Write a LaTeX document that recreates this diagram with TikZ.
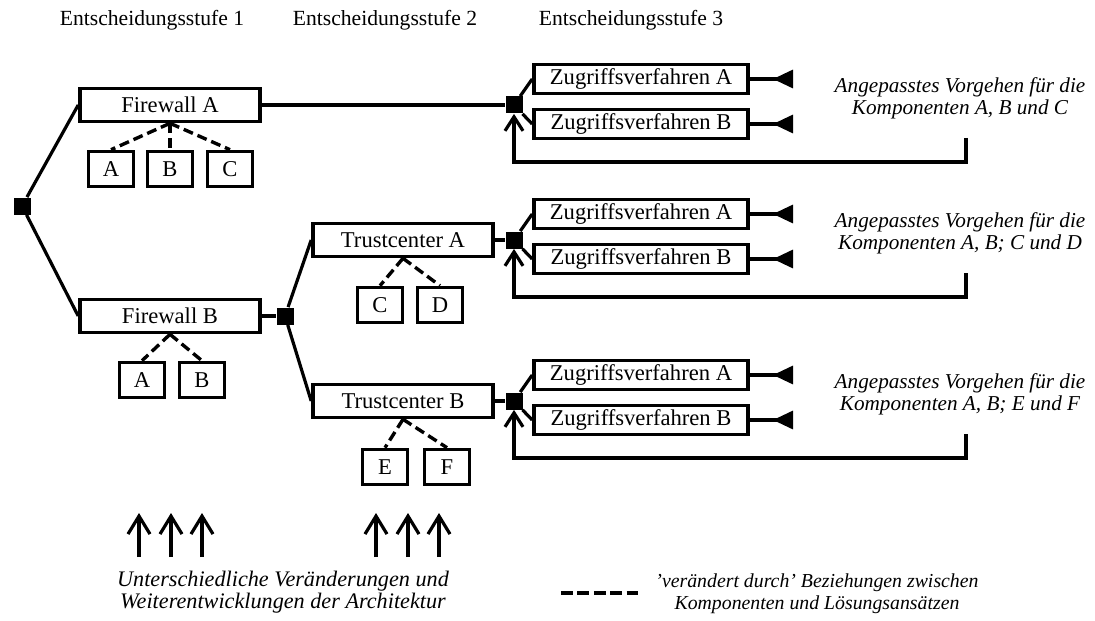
\documentclass[tikz,border=0pt]{standalone}
\usepackage{fontspec}
\setmainfont{Liberation Serif}
\usetikzlibrary{arrows.meta}
\begin{document}
\begin{tikzpicture}[x=0.5pt,y=-0.5pt,
  txt/.style={font=\fontsize{11.3}{12.2}\selectfont},
  box/.style={draw, line width=1.8pt, minimum width=90pt, minimum height=16.5pt, inner sep=0pt, txt},
  zbox/.style={draw, line width=1.8pt, minimum width=107pt, minimum height=14.5pt, inner sep=0pt, txt},
  sbox/.style={draw, line width=1.8pt, minimum width=22.5pt, minimum height=17.5pt, inner sep=0pt, txt},
  jn/.style={fill, minimum size=8.5pt, inner sep=0pt},
  conn/.style={line width=1.6pt},
  rel/.style={line width=1.7pt, dash pattern=on 5pt off 2.5pt},
  term/.style={line width=1.6pt, -{Triangle[reversed,length=10pt,width=9pt]}},
  fbk/.style={line width=1.6pt, -{Straight Barb[length=7pt,width=9pt]}},
  uparr/.style={line width=1.6pt, -{Straight Barb[length=9pt,width=11pt]}},
  note/.style={font=\fontsize{10.6}{11}\selectfont\itshape, align=center},
]
\useasboundingbox (0,0) rectangle (1095,620);

% headers
\node[font=\fontsize{10.8}{12}\selectfont] (h1) at (152,20) {Entscheidungsstufe 1};
\node[font=\fontsize{10.8}{12}\selectfont] (h2) at (385,20) {Entscheidungsstufe 2};
\node[font=\fontsize{10.8}{12}\selectfont] (h3) at (631,20) {Entscheidungsstufe 3};

% level 1
\node[jn] (r) at (22,206) {};
\node[box] (fa) at (170,105) {Firewall A};
\node[sbox] (fa1) at (111,169) {A};
\node[sbox] (fa2) at (170,169) {B};
\node[sbox] (fa3) at (230,169) {C};
\node[box] (fb) at (170,316) {Firewall B};
\node[sbox] (fb1) at (142,380) {A};
\node[sbox] (fb2) at (202,380) {B};

% level 2
\node[jn] (j2) at (285,316) {};
\node[box] (tca) at (403,240) {Trustcenter A};
\node[sbox] (tca1) at (380,305) {C};
\node[sbox] (tca2) at (440,305) {D};
\node[box] (tcb) at (403,401) {Trustcenter B};
\node[sbox] (tcb1) at (385,467) {E};
\node[sbox] (tcb2) at (447,467) {F};

\draw[conn] (r) -- (fa.west);
\draw[conn] (r) -- (fb.west);
\draw[conn] (fb.east) -- (j2);
\draw[conn] (j2) -- (tca.west);
\draw[conn] (j2) -- (tcb.west);

\draw[rel] (fa.south) -- (fa1.north);
\draw[rel] (fa.south) -- (fa2.north);
\draw[rel] (fa.south) -- (fa3.north);
\draw[rel] (fb.south) -- (fb1.north);
\draw[rel] (fb.south) -- (fb2.north);
\draw[rel] (tca.south) -- (tca1.north);
\draw[rel] (tca.south) -- (tca2.north);
\draw[rel] (tcb.south) -- (tcb1.north);
\draw[rel] (tcb.south) -- (tcb2.north);

% level 3 groups
\foreach \i/\sy/\cmp in {1/105/{A, B und C}, 2/240/{A, B; C und D}, 3/401/{A, B; E und F}}{
  \node[jn] (s\i) at (514,\sy) {};
  \node[zbox] (za\i) at (641,\sy-26) {Zugriffsverfahren A};
  \node[zbox] (zb\i) at (641,\sy+19) {Zugriffsverfahren B};
  \coordinate (tea\i) at (793,\sy-26);
  \coordinate (teb\i) at (793,\sy+19);
  \draw[conn] (s\i) -- (za\i.west);
  \draw[conn] (s\i) -- (zb\i.west);
  \draw[term] (za\i) -- (tea\i);
  \draw[term] (zb\i) -- (teb\i);
  \coordinate (fbt\i) at (966,\sy+33);
  \coordinate (fbr\i) at (966,\sy+57);
  \coordinate (fbl\i) at (514,\sy+57);
  \draw[fbk] (fbt\i) -- (fbr\i) -- (fbl\i) -- (s\i);
  \node[note] (nt\i) at (960,\sy-7) {Angepasstes Vorgehen für die\\Komponenten \cmp};
}
\draw[conn] (fa.east) -- (s1);
\draw[conn] (tca.east) -- (s2);
\draw[conn] (tcb.east) -- (s3);

% bottom arrows
\foreach \k/\x in {1/139, 2/171, 3/202, 4/376, 5/408, 6/439}{
  \coordinate (ua\k) at (\x,557);
  \coordinate (ub\k) at (\x,513);
  \draw[uparr] (ua\k) -- (ub\k);
}
\node[note, font=\fontsize{11.1}{11}\selectfont\itshape] (n1) at (283,592) {Unterschiedliche Veränderungen und\\Weiterentwicklungen der Architektur};

% legend
\coordinate (l1) at (561,593);
\coordinate (l2) at (638,593);
\draw[line width=1.7pt, dash pattern=on 6pt off 2.2pt] (l1) -- (l2);
\node[note, font=\fontsize{9.9}{11}\selectfont\itshape] (n2) at (817,594) {’verändert durch’ Beziehungen zwischen\\Komponenten und Lösungsansätzen};
\end{tikzpicture}
\end{document}
